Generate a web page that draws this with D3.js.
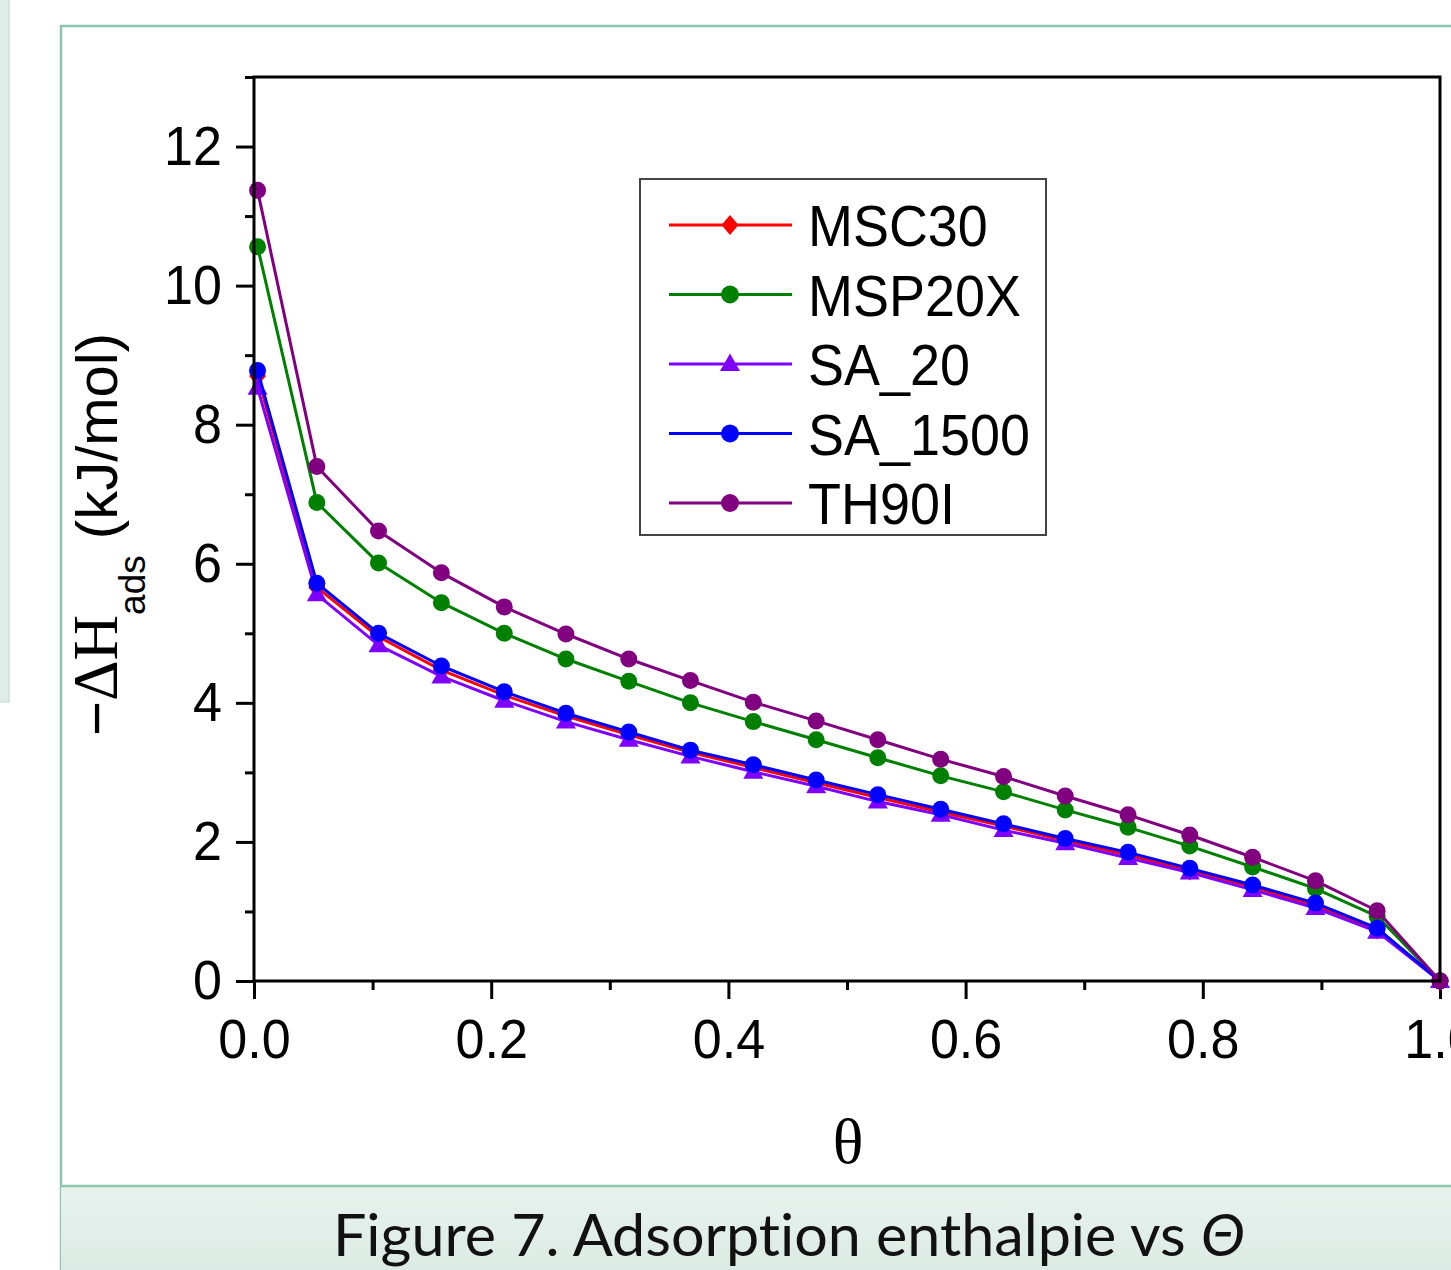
<!DOCTYPE html>
<html><head><meta charset="utf-8">
<script src="https://cdn.jsdelivr.net/npm/d3@7"></script>
<style>body{margin:0;background:#fff;overflow:hidden} svg{display:block} text{font-variant-ligatures:none;font-feature-settings:"liga" 0,"clig" 0}</style>
</head><body>
<svg id="c" width="1451" height="1270"></svg>
<script>
// ---- data ----
const theta = [0.003, 0.053, 0.105, 0.158, 0.211, 0.263, 0.316, 0.368, 0.421, 0.474,
               0.526, 0.579, 0.632, 0.684, 0.737, 0.789, 0.842, 0.895, 0.947, 1.0];
const seriesNames = ["MSC30", "MSP20X", "SA_20", "SA_1500", "TH90I"];
const msc30  = [8.70, 5.66, 4.95, 4.47, 4.11, 3.81, 3.54, 3.29, 3.07, 2.85, 2.64, 2.43, 2.23, 2.02, 1.81, 1.59, 1.35, 1.09, 0.74, 0];
const msp20x = [10.56, 6.88, 6.01, 5.44, 5.00, 4.63, 4.31, 4.00, 3.73, 3.47, 3.21, 2.95, 2.72, 2.46, 2.21, 1.94, 1.64, 1.33, 0.93, 0];
const sa20   = [8.53, 5.56, 4.83, 4.38, 4.03, 3.73, 3.47, 3.23, 3.01, 2.80, 2.58, 2.39, 2.17, 1.98, 1.77, 1.56, 1.31, 1.05, 0.71, 0];
const sa1500 = [8.78, 5.72, 5.00, 4.53, 4.16, 3.85, 3.58, 3.32, 3.11, 2.89, 2.68, 2.47, 2.26, 2.05, 1.85, 1.62, 1.38, 1.12, 0.76, 0];
const th90i  = [11.37, 7.40, 6.47, 5.87, 5.38, 4.99, 4.63, 4.32, 4.01, 3.74, 3.47, 3.19, 2.94, 2.66, 2.39, 2.10, 1.78, 1.44, 1.01, 0];
const seriesColors = ["#ff0000", "#008000", "#8000ff", "#0000ff", "#800080"];
const seriesMarkers = ["diamond", "circle", "triangle", "circle", "circle"];
const xMajorTicks = [0, 0.2, 0.4, 0.6, 0.8, 1.0];
const xMinorTicks = [0.1, 0.3, 0.5, 0.7, 0.9];
const yMajorTicks = [0, 2, 4, 6, 8, 10, 12];
const yMinorTicks = [1, 3, 5, 7, 9, 11, 13];
const xTickLabels = ["0.0", "0.2", "0.4", "0.6", "0.8", "1.0"];
const caption = "Figure 7. Adsorption enthalpie vs ";

const seriesValues = [msc30, msp20x, sa20, sa1500, th90i];

// ---- layout ----
const svg = d3.select("#c");
const frameColor = "#8cc5b0";
const SQ = 0.93; // horizontal squish of the original image text

// left sidebar strip
svg.append("rect").attr("x", -1).attr("y", -1).attr("width", 10).attr("height", 703)
  .attr("fill", "#deede7").attr("stroke", "#cde2d9").attr("stroke-width", 1.5);

// outer frame
svg.append("line").attr("x1", 61).attr("x2", 61).attr("y1", 25).attr("y2", 1270)
  .attr("stroke", frameColor).attr("stroke-width", 2.5);
svg.append("line").attr("x1", 60).attr("x2", 1451).attr("y1", 26).attr("y2", 26)
  .attr("stroke", frameColor).attr("stroke-width", 2.5);

// caption panel
const defs = svg.append("defs");
const grad = defs.append("linearGradient").attr("id", "capg").attr("x1", 0).attr("x2", 0).attr("y1", 0).attr("y2", 1);
grad.append("stop").attr("offset", "0%").attr("stop-color", "#e8f2ee");
grad.append("stop").attr("offset", "100%").attr("stop-color", "#dbeae4");
svg.append("rect").attr("x", 61).attr("y", 1186).attr("width", 1400).attr("height", 90)
  .attr("fill", "url(#capg)");
svg.append("line").attr("x1", 61).attr("x2", 1451).attr("y1", 1186).attr("y2", 1186)
  .attr("stroke", frameColor).attr("stroke-width", 2.5);
const cap = svg.append("text").attr("x", 333).attr("y", 1256)
  .attr("font-family", "Lato, 'Open Sans', sans-serif").attr("font-size", 58).attr("fill", "#111")
  .attr("textLength", 912).attr("lengthAdjust", "spacingAndGlyphs");
cap.append("tspan").text(caption);
cap.append("tspan").attr("font-style", "italic").text("Θ");

// ---- plot ----
const L = 254, R = 1440, T = 77, B = 981;
const x = d3.scaleLinear().domain([0, 1]).range([L, R]);
const y = d3.scaleLinear().domain([0, 13]).range([B, T]);
const sansFont = "'Liberation Sans', Arial, Helvetica, sans-serif";

function squish(sel) {
  sel.each(function () {
    const w = this.getComputedTextLength();
    d3.select(this).attr("textLength", w * SQ).attr("lengthAdjust", "spacingAndGlyphs");
  });
}

// y axis
const gy = svg.append("g").attr("transform", `translate(${L},0)`)
  .call(d3.axisLeft(y).tickValues(yMajorTicks).tickSize(18).tickPadding(14).tickFormat(d3.format("d")));
const gy2 = svg.append("g").attr("transform", `translate(${L},0)`)
  .call(d3.axisLeft(y).tickValues(yMinorTicks).tickSize(9).tickFormat(""));
// x axis
const gx = svg.append("g").attr("transform", `translate(0,${B})`)
  .call(d3.axisBottom(x).tickValues(xMajorTicks).tickSize(18).tickPadding(19)
    .tickFormat((d, i) => xTickLabels[i]));
const gx2 = svg.append("g").attr("transform", `translate(0,${B})`)
  .call(d3.axisBottom(x).tickValues(xMinorTicks).tickSize(9).tickFormat(""));

[gy, gy2, gx, gx2].forEach(g => {
  g.select(".domain").remove();
  g.selectAll(".tick line").attr("stroke", "#000").attr("stroke-width", 3);
  g.selectAll(".tick text").attr("font-family", sansFont).attr("font-size", 56).attr("fill", "#000");
});
squish(gy.selectAll(".tick text"));
squish(gx.selectAll(".tick text"));

// series
const symbolPath = {
  diamond: "M0,-10L8.5,0L0,10L-8.5,0Z",
  triangle: "M0,-10.5L10,7L-10,7Z"
};
function drawMarker(g, type, cx, cy, color, r) {
  if (type === "circle") {
    g.append("circle").attr("cx", cx).attr("cy", cy).attr("r", r).attr("fill", color);
  } else {
    g.append("path").attr("d", symbolPath[type]).attr("transform", `translate(${cx},${cy})`).attr("fill", color);
  }
}
const line = d3.line().x(d => x(d[0])).y(d => y(d[1]));
const plotG = svg.append("g");
seriesValues.forEach((vals, si) => {
  const pts = theta.map((t, i) => [t, vals[i]]);
  const g = plotG.append("g");
  g.append("path").datum(pts).attr("d", line).attr("fill", "none")
    .attr("stroke", seriesColors[si]).attr("stroke-width", 3).attr("stroke-linejoin", "round");
  pts.forEach(p => drawMarker(g, seriesMarkers[si], x(p[0]), y(p[1]), seriesColors[si], 8.5));
});

// plot frame
svg.append("rect").attr("x", L).attr("y", T).attr("width", R - L).attr("height", B - T)
  .attr("fill", "none").attr("stroke", "#000").attr("stroke-width", 3);

// axis titles
const yl = svg.append("text").attr("transform", `translate(117,736) rotate(-90)`)
  .attr("fill", "#000");
yl.append("tspan").attr("font-family", sansFont).attr("font-size", 60).text("−");
yl.append("tspan").attr("font-family", "'Liberation Serif', 'Times New Roman', serif").attr("font-size", 63).text("ΔH");
yl.append("tspan").attr("font-family", sansFont).attr("font-size", 37).attr("dy", 28).text("ads");
yl.append("tspan").attr("font-family", sansFont).attr("font-size", 58).attr("dy", -28).text(" (kJ/mol)");

svg.append("text").attr("x", 848).attr("y", 1163).attr("text-anchor", "middle")
  .attr("font-family", "'Liberation Serif', 'Times New Roman', serif").attr("font-size", 64)
  .attr("fill", "#000").text("θ");

// legend
const lg = svg.append("g");
lg.append("rect").attr("x", 640).attr("y", 179).attr("width", 406).attr("height", 356)
  .attr("fill", "#fff").attr("stroke", "#444").attr("stroke-width", 2);
const legendRowY = d3.scalePoint().domain(seriesNames).range([225, 503]);
seriesNames.forEach((name, si) => {
  const cy = legendRowY(name);
  lg.append("line").attr("x1", 669).attr("x2", 792).attr("y1", cy).attr("y2", cy)
    .attr("stroke", seriesColors[si]).attr("stroke-width", 3);
  drawMarker(lg, seriesMarkers[si], 730, cy, seriesColors[si], 9);
  const t = lg.append("text").attr("x", 808).attr("y", cy + 21)
    .attr("font-family", sansFont).attr("font-size", 58).attr("fill", "#000").text(name);
  squish(t);
});
</script>
</body></html>
